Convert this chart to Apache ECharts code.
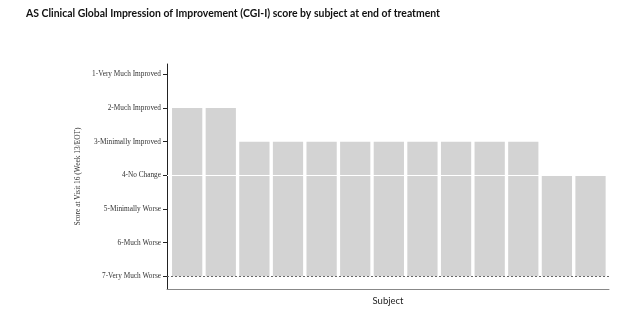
<!DOCTYPE html>
<html><head><meta charset="utf-8">
<script src="https://cdn.jsdelivr.net/npm/echarts@6/dist/echarts.min.js"></script>
<style>html,body{margin:0;padding:0;background:#fff}#c{width:632px;height:328px}</style>
</head><body><div id="c"></div>
<script>
const subjects = ['S01','S02','S03','S04','S05','S06','S07','S08','S09','S10','S11','S12','S13'];
const scores = [2,2,3,3,3,3,3,3,3,3,3,4,4];
const scoreLabels = ['1-Very Much Improved','2-Much Improved','3-Minimally Improved','4-No Change','5-Minimally Worse','6-Much Worse','7-Very Much Worse'];
const scoreValues = [1,2,3,4,5,6,7];
const baseline = 7;

const chart = echarts.init(document.getElementById('c'));
chart.setOption({
  animation: false,
  title: {
    text: 'AS Clinical Global Impression of Improvement (CGI-I) score by subject at end of treatment',
    left: 21, top: 4,
    textStyle: {fontFamily: 'Lato', fontWeight: 'bold', fontSize: 10.45, color: '#111'}
  },
  grid: {left: 167, top: 64, right: 23, bottom: 39},
  xAxis: {
    type: 'value', min: -0.6, max: 12.55,
    name: 'Subject', nameLocation: 'middle', nameGap: 7,
    nameTextStyle: {fontFamily: 'Lato', fontSize: 9.5, color: '#222'},
    axisLine: {show: true, onZero: false, lineStyle: {color: '#888', width: 1}},
    axisTick: {show: false}, axisLabel: {show: false}, splitLine: {show: false}
  },
  yAxis: {
    type: 'value', inverse: true, min: 0.69, max: 7.38,
    name: 'Score at Visit 16 (Week 13/EOT)', nameLocation: 'middle', nameGap: 85,
    nameTextStyle: {fontFamily: 'Liberation Serif', fontSize: 7.4, color: '#333'},
    axisLine: {show: true, onZero: false, lineStyle: {color: '#222', width: 1}},
    axisTick: {show: true, length: 4, customValues: scoreValues, lineStyle: {color: '#222'}},
    axisLabel: {
      customValues: scoreValues, margin: 6,
      fontFamily: 'Liberation Serif', fontSize: 7.3, color: '#333',
      formatter: v => scoreLabels[Math.round(v) - 1]
    },
    splitLine: {show: false}
  },
  series: [
    {
      type: 'custom', name: 'CGI-I',
      data: scores.map((v, i) => [i, v]),
      encode: {x: 0, y: 1},
      renderItem: function (params, api) {
        const i = api.value(0), v = api.value(1);
        const top = api.coord([i, v]);
        const bot = api.coord([i, baseline]);
        const w = api.size([0.9, 0])[0];
        return {
          type: 'rect',
          shape: {x: top[0] - w / 2, y: top[1], width: w, height: bot[1] - top[1]},
          style: {fill: '#d3d3d3'}
        };
      }
    },
    {
      type: 'line', data: [], silent: true,
      markLine: {
        silent: true, symbol: 'none', label: {show: false},
        data: [
          {yAxis: 4, lineStyle: {color: '#fff', width: 1, type: 'solid'}},
          {yAxis: 7, lineStyle: {color: '#666', width: 1, type: [2, 2]}}
        ]
      }
    }
  ]
});
</script></body></html>
